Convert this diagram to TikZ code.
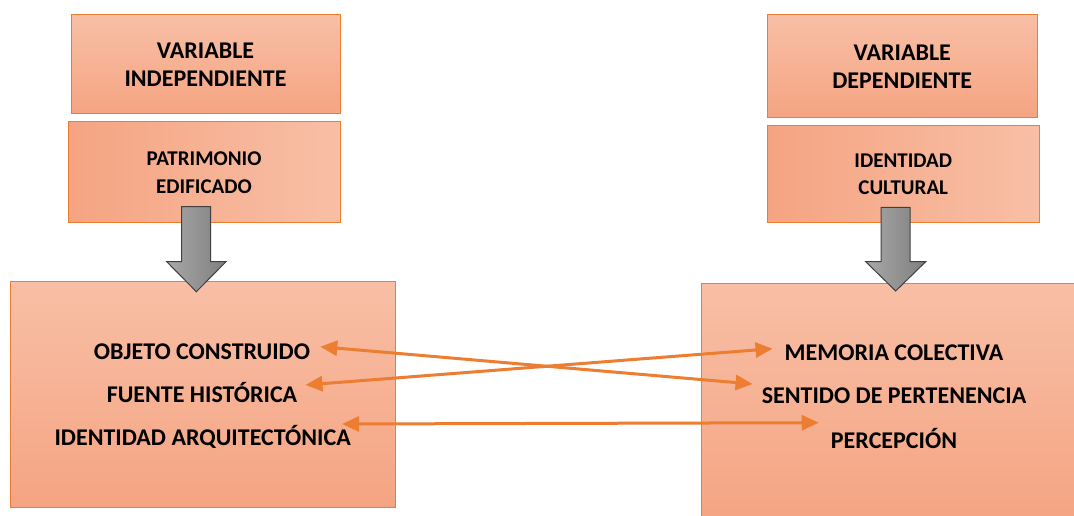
\documentclass[tikz,border=0pt]{standalone}
\usepackage{fontspec}
\setmainfont{Carlito}
\usepackage{tikz}
\usetikzlibrary{arrows.meta}
\definecolor{naranja}{HTML}{ED7D31}
\definecolor{salmonclaro}{HTML}{F8BFA6}
\definecolor{salmon}{HTML}{F5A482}
\definecolor{grisclaro}{HTML}{A8A8A8}
\definecolor{grisoscuro}{HTML}{7F7F7F}
\definecolor{grisborde}{HTML}{404040}

\begin{document}
\begin{tikzpicture}[x=1pt,y=1pt,
	caja/.style={draw=naranja, line width=1pt, inner sep=0pt, align=center, font=\bfseries\fontsize{24}{28.5}\selectfont},
	cajav/.style={caja, top color=salmonclaro, bottom color=salmon},
	cajah/.style={caja, left color=salmon, right color=salmonclaro, font=\bfseries\fontsize{21}{27.7}\selectfont},
	rasgo/.style={inner sep=0pt, text height=15.5pt, text depth=0pt, font=\bfseries\fontsize{24}{28}\selectfont},
	flecha/.style={naranja, line width=3pt, {Triangle[length=17pt,width=15pt]}-{Triangle[length=17pt,width=15pt]}},
	bloque/.style={draw=grisborde, line width=1pt, left color=grisclaro, right color=grisoscuro}]
			\clip (0,0) rectangle (1074,515);
			
			% Большие прямоугольники
			\node[cajav, minimum width=385.5pt, minimum height=226pt] (izq) at (202.75,120.3) {};
			\node[cajav, minimum width=380pt, minimum height=240pt] (der) at (891,112) {};
			
			% Переменные
			\node[cajav, minimum width=269pt, minimum height=99pt] (vi) at (205.5,450.5) {VARIABLE\\INDEPENDIENTE};
			\node[cajah, minimum width=272pt, minimum height=101pt] (pe) at (204,342.5) {PATRIMONIO\\EDIFICADO};
			\node[cajav, minimum width=269.5pt, minimum height=103pt] (vd) at (902.25,448.5) {VARIABLE\\DEPENDIENTE};
			\node[cajah, minimum width=271.5pt, minimum height=97.5pt] (ic) at (903.25,340.75) {IDENTIDAD\\CULTURAL};
			
			% Серые стрелки вниз
			\draw[bloque] (181.7,308.3) -- (210.7,308.3) -- (210.7,253.3) -- (226,253.3) -- (196.35,223.3) -- (166.7,253.3) -- (181.7,253.3) -- cycle;
			\draw[bloque] (881,307.7) -- (910,307.7) -- (910,253.3) -- (925.7,253.3) -- (895.7,224) -- (865.7,253.3) -- (881,253.3) -- cycle;
			
			% Показатели
			\node[rasgo] (oc) at (202,163.3) {OBJETO CONSTRUIDO};
			\node[rasgo] (fh) at (202,120) {FUENTE HISTÓRICA};
			\node[rasgo] (ia) at (202.7,77) {IDENTIDAD ARQUITECTÓNICA};
			\node[rasgo] (mc) at (894,162.3) {MEMORIA COLECTIVA};
			\node[rasgo] (sp) at (894,119) {SENTIDO DE PERTENENCIA};
			\node[rasgo] (pc) at (894,74.3) {PERCEPCIÓN};
			
			% Связи
			\draw[flecha] ([xshift=10pt,yshift=5pt]oc.east) -- ([xshift=-9pt,yshift=12pt]sp.west);
			\draw[flecha] ([xshift=8pt,yshift=10pt]fh.east) -- ([xshift=-12pt,yshift=4pt]mc.west);
			\draw[flecha] ([xshift=-9pt,yshift=14pt]ia.east) -- ([xshift=-12pt,yshift=18pt]pc.west);
		\end{tikzpicture}
\end{document}
